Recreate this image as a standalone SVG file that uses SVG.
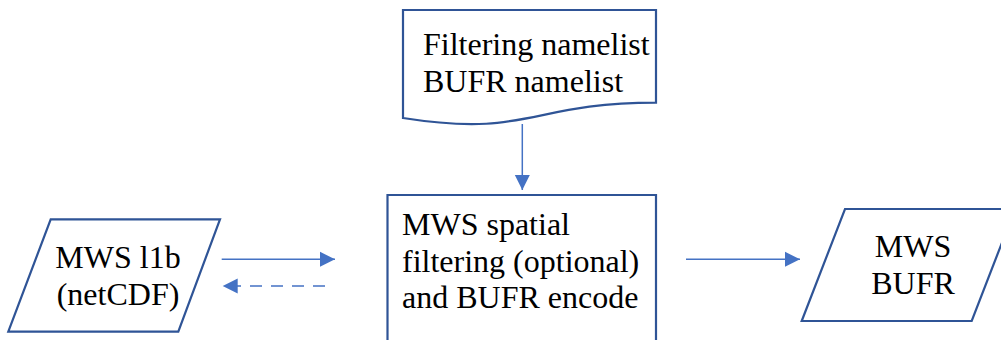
<svg xmlns="http://www.w3.org/2000/svg" width="1001" height="340" viewBox="0 0 1001 340">
<defs>
<style>
.shape{fill:#fff;stroke:#2F5496;stroke-width:2.2}
.lbl{font-family:'Liberation Serif',Tinos,'Times New Roman',Times,'DejaVu Serif',serif;font-size:32px;fill:#000}
.conn{stroke:#4472C4;stroke-width:1.5;fill:none}
</style>
<marker id="ah" markerUnits="userSpaceOnUse" markerWidth="16" markerHeight="16" viewBox="0 0 16 16" refX="15" refY="8" orient="auto">
<path d="M0,0.5 L15,8 L0,15.5 Z" fill="#4472C4"/>
</marker>
</defs>
<g id="node-namelist">
<path class="shape" d="M403,10 H656 V102.7 C529.5,102.7 529.5,138 403,118 Z"/>
<text class="lbl" font-family="Liberation Serif, serif" x="423" y="55">Filtering namelist</text>
<text class="lbl" font-family="Liberation Serif, serif" x="423" y="92">BUFR namelist</text>
</g>
<g id="node-input">
<path class="shape" d="M50.7,219.3 H220 L178.3,331.7 H8.3 Z"/>
<text class="lbl" font-family="Liberation Serif, serif" x="118" y="268" text-anchor="middle">MWS l1b</text>
<text class="lbl" font-family="Liberation Serif, serif" x="118" y="305" text-anchor="middle">(netCDF)</text>
</g>
<g id="node-process">
<path class="shape" d="M387.5,345 V195 H656 V345"/>
<text class="lbl" font-family="Liberation Serif, serif" x="402" y="235">MWS spatial</text>
<text class="lbl" font-family="Liberation Serif, serif" x="402" y="271.5">filtering (optional)</text>
<text class="lbl" font-family="Liberation Serif, serif" x="402" y="308">and BUFR encode</text>
</g>
<g id="node-output">
<path class="shape" d="M845,209 H1015 L971.7,321 H801.7 Z"/>
<text class="lbl" font-family="Liberation Serif, serif" x="913" y="256.5" text-anchor="middle">MWS</text>
<text class="lbl" font-family="Liberation Serif, serif" x="913" y="294" text-anchor="middle">BUFR</text>
</g>
<g id="connectors">
<line class="conn" x1="522.3" y1="124" x2="522.3" y2="190" marker-end="url(#ah)"/>
<line class="conn" x1="221.7" y1="259.3" x2="335" y2="259.3" marker-end="url(#ah)"/>
<line class="conn" x1="325" y1="286" x2="222.7" y2="286" stroke-width="2" stroke-dasharray="12,9" marker-end="url(#ah)"/>
<line class="conn" x1="686" y1="259.3" x2="800" y2="259.3" marker-end="url(#ah)"/>
</g>
</svg>
